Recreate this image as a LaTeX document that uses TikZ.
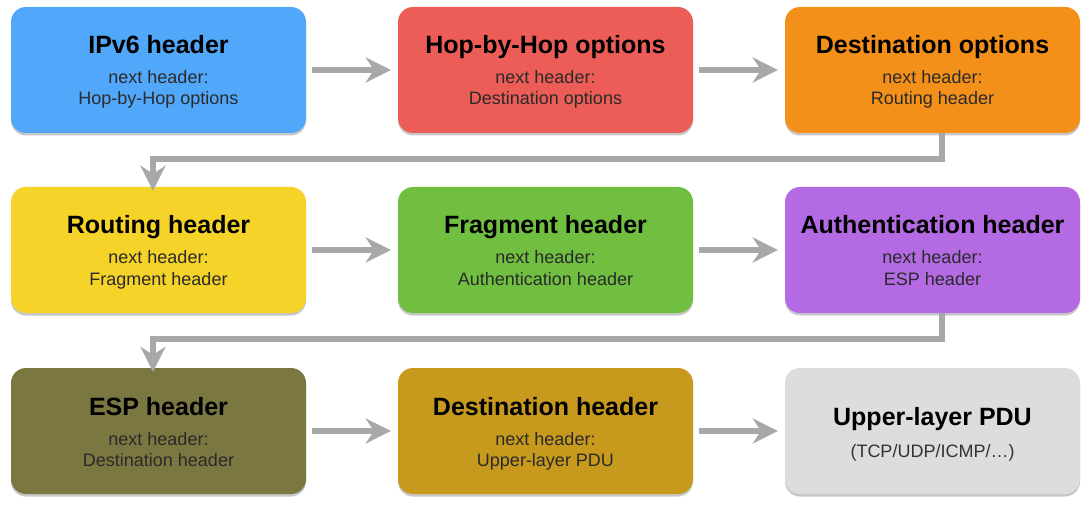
\documentclass[tikz,border=0pt]{standalone}
\usepackage{fontspec}
\setmainfont{Liberation Sans}
\usetikzlibrary{arrows.meta,shadows,calc}
\definecolor{cblue}{HTML}{51A7F9}
\definecolor{cred}{HTML}{EC5D57}
\definecolor{corange}{HTML}{F39019}
\definecolor{cyellow}{HTML}{F5D328}
\definecolor{cgreen}{HTML}{70BF41}
\definecolor{cpurple}{HTML}{B36AE2}
\definecolor{colive}{HTML}{7A7741}
\definecolor{cmustard}{HTML}{C79A1E}
\definecolor{cgray}{HTML}{DCDDDF}
\definecolor{carrow}{HTML}{A6A9A8}
\definecolor{csub}{HTML}{2A2A2A}
\tikzset{
  hbox/.style={draw=none, rounded corners=15pt, minimum width=295pt, minimum height=126pt,
    inner sep=0pt, drop shadow={shadow xshift=0pt, shadow yshift=-2.5pt, opacity=0.22, fill=black}},
  htitle/.style={anchor=base, inner sep=0pt, font=\fontsize{25}{30}\selectfont\bfseries, text=black},
  hsub/.style={anchor=base, inner sep=0pt, font=\fontsize{18}{21}\selectfont, text=csub},
  conn/.style={draw=carrow, line width=6pt, -{Stealth[length=25pt, width=25pt, inset=8pt]}},
}
\newcommand\hdrbox[7]{%
  \node[hbox, fill=#4] (#1) at (#2,#3) {};
  \node[htitle] (#1t) at (#2,#3-16) {#5};
  \node[hsub] (#1s) at (#2,#3+14) {#6};
  \node[hsub] (#1u) at (#2,#3+35) {#7};
}
\begin{document}
\begin{tikzpicture}[x=1pt,y=-1pt]
\useasboundingbox (0,0) rectangle (1090,505);
\hdrbox{b1}{158.5}{70}{cblue}{IPv6 header}{next header:}{Hop-by-Hop options}
\hdrbox{b2}{545.5}{70}{cred}{Hop-by-Hop options}{next header:}{Destination options}
\hdrbox{b3}{932.5}{70}{corange}{Destination options}{next header:}{Routing header}
\hdrbox{b4}{158.5}{250}{cyellow}{Routing header}{next header:}{Fragment header}
\hdrbox{b5}{545.5}{250}{cgreen}{Fragment header}{next header:}{Authentication header}
\hdrbox{b6}{932.5}{250}{cpurple}{Authentication header}{next header:}{ESP header}
\hdrbox{b7}{158.5}{431}{colive}{ESP header}{next header:}{Destination header}
\hdrbox{b8}{545.5}{431}{cmustard}{Destination header}{next header:}{Upper-layer PDU}
\node[hbox, fill=cgray] (b9) at (932.5,431) {};
\node[htitle] (b9t) at (932.5,425) {Upper-layer PDU};
\node[hsub, text=black!80] (b9s) at (932.5,457) {(TCP/UDP/ICMP/…)};
% connectors
\draw[conn] ([xshift=6pt]b1.east) -- ([xshift=-7pt]b2.west);
\draw[conn] ([xshift=6pt]b2.east) -- ([xshift=-7pt]b3.west);
\draw[conn] ([xshift=6pt]b4.east) -- ([xshift=-7pt]b5.west);
\draw[conn] ([xshift=6pt]b5.east) -- ([xshift=-7pt]b6.west);
\draw[conn] ([xshift=6pt]b7.east) -- ([xshift=-7pt]b8.west);
\draw[conn] ([xshift=6pt]b8.east) -- ([xshift=-7pt]b9.west);
\draw[conn, rounded corners=0pt] ([xshift=9.5pt]b3.south) -- ++(0,26) -| ([xshift=-5.5pt,yshift=-4pt]b4.north);
\draw[conn, rounded corners=0pt] ([xshift=9.5pt]b6.south) -- ++(0,26) -| ([xshift=-5.5pt,yshift=-4pt]b7.north);
\end{tikzpicture}
\end{document}
